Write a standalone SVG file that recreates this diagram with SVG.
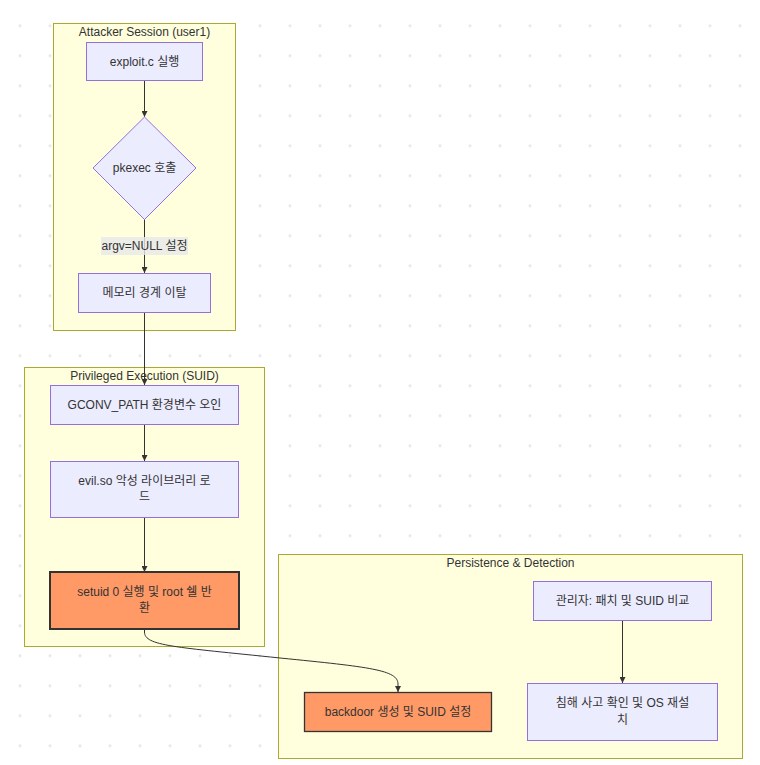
<svg xmlns="http://www.w3.org/2000/svg" width="760" height="765" viewBox="0 0 760 765">
<defs>
<pattern id="dots" patternUnits="userSpaceOnUse" width="30" height="30" x="5" y="10.7">
<circle cx="15" cy="15" r="1.5" fill="#e6e6e6"/>
</pattern>
<marker id="arrow" viewBox="0 0 10 10" refX="10" refY="5" markerWidth="6" markerHeight="6" markerUnits="userSpaceOnUse" orient="auto">
<path d="M0,0 L10,5 L0,10 z" fill="#333"/>
</marker>
<style>
text{font-family:"Liberation Sans","Noto Sans CJK KR",sans-serif;font-size:12px;fill:#333;text-anchor:middle;dominant-baseline:central}
.cluster{fill:#ffffde;stroke:#aaaa33;stroke-width:1}
.node{fill:#ececff;stroke:#9370db;stroke-width:1}
.hot{fill:#ff9966;stroke:#333;stroke-width:2}
.hot2{fill:#ff9966;stroke:#333;stroke-width:1.3}
.edge{fill:none;stroke:#333;stroke-width:1;marker-end:url(#arrow)}
</style>
</defs>
<rect x="0" y="0" width="760" height="765" fill="#fff"/>
<rect x="0" y="0" width="760" height="765" fill="url(#dots)"/>

<g id="cluster-attacker">
<rect class="cluster" x="53.5" y="23.5" width="182" height="307"/>
<text x="144.5" y="32">Attacker Session (user1)</text>
</g>
<g id="cluster-privileged">
<rect class="cluster" x="24.5" y="367.5" width="240" height="279"/>
<text x="144.5" y="376">Privileged Execution (SUID)</text>
</g>
<g id="cluster-persistence">
<rect class="cluster" x="278.5" y="554.5" width="464" height="204"/>
<text x="510.5" y="563">Persistence &amp; Detection</text>
</g>

<g id="edges">
<path class="edge" d="M144.5,81 L144.5,117"/>
<path class="edge" d="M144.5,219 L144.5,273"/>
<path class="edge" d="M144.5,313 L144.5,385"/>
<path class="edge" d="M144.5,424 L144.5,461"/>
<path class="edge" d="M144.5,517 L144.5,572"/>
<path class="edge" d="M144.5,629 L144.5,632 C144.5,646 175,647 280,658 C370,667 398,670 398,684 L398,692"/>
<path class="edge" d="M622.5,620 L622.5,683"/>
<g id="edge-label">
<rect x="101" y="237" width="87" height="18" fill="#e8e8e8" opacity="0.8"/>
<text x="144.5" y="246">argv=NULL 설정</text>
</g>
</g>

<g id="node-exploit">
<rect class="node" x="86.5" y="42.5" width="116" height="38"/>
<text x="144.5" y="61.5">exploit.c 실행</text>
</g>
<g id="node-pkexec">
<polygon class="node" points="144.5,117 196,168 144.5,219.5 93,168"/>
<text x="144.5" y="168">pkexec 호출</text>
</g>
<g id="node-memory">
<rect class="node" x="78.5" y="273.5" width="132" height="39"/>
<text x="144.5" y="293">메모리 경계 이탈</text>
</g>
<g id="node-gconv">
<rect class="node" x="50.5" y="385.5" width="188" height="39"/>
<text x="144.5" y="405">GCONV_PATH 환경변수 오인</text>
</g>
<g id="node-evil">
<rect class="node" x="50.5" y="461.5" width="188" height="56"/>
<text x="144.5" y="481">evil.so 악성 라이브러리 로</text>
<text x="144.5" y="497">드</text>
</g>
<g id="node-setuid">
<rect class="hot" x="50" y="572" width="189" height="57"/>
<text x="144.5" y="592">setuid 0 실행 및 root 쉘 반</text>
<text x="144.5" y="608">환</text>
</g>
<g id="node-backdoor">
<rect class="hot2" x="304.5" y="692.5" width="187" height="39"/>
<text x="398" y="712">backdoor 생성 및 SUID 설정</text>
</g>
<g id="node-admin">
<rect class="node" x="533.5" y="581.5" width="178" height="39"/>
<text x="622.5" y="601">관리자: 패치 및 SUID 비교</text>
</g>
<g id="node-incident">
<rect class="node" x="527.5" y="683.5" width="190" height="57"/>
<text x="622.5" y="703">침해 사고 확인 및 OS 재설</text>
<text x="622.5" y="720">치</text>
</g>
</svg>
